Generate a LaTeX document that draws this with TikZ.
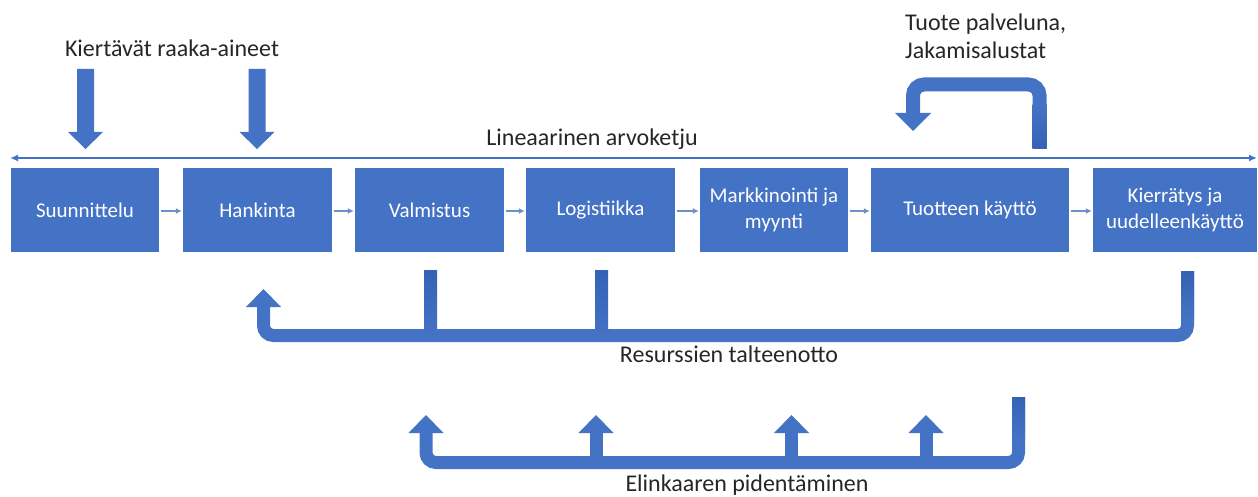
\documentclass[tikz,border=0pt]{standalone}
\usepackage{fontspec}
\setmainfont{Carlito}
\usetikzlibrary{arrows.meta}
\definecolor{ofblue}{HTML}{4472C4}
\definecolor{stubdark}{HTML}{3562B4}
\definecolor{chainc}{HTML}{6F8FC8}
\definecolor{txt}{HTML}{262626}
\begin{document}
\begin{tikzpicture}[x=1pt,y=-1pt,
  box/.style={fill=ofblue, text=white, minimum height=84, inner sep=2, font=\fontsize{21}{26}\selectfont, align=center},
  lbl/.style={text=txt, font=\fontsize{24}{28}\selectfont, inner sep=0},
  chain/.style={draw=chainc, line width=1.3, -{Latex[length=6,width=6]}, shorten <=2, shorten >=1},
  fat/.style={draw=ofblue, line width=13, rounded corners=10},
  darktop/.style={top color=stubdark, bottom color=ofblue, draw=none},
  darkbot/.style={top color=ofblue, bottom color=stubdark, draw=none},
]
\useasboundingbox (0,0) rectangle (1258,497);

% value chain boxes
\node[box, minimum width=148] (s) at (85,210) {Suunnittelu};
\node[box, minimum width=149] (h) at (257.5,210) {Hankinta};
\node[box, minimum width=149] (v) at (429.5,210) {Valmistus};
\node[box, minimum width=149] (l) at (600.5,210) {Logistiikka};
\node[box, minimum width=148] (m) at (774,210) {Markkinointi ja\\myynti};
\node[box, minimum width=198] (t) at (970,210) {Tuotteen käyttö};
\node[box, minimum width=164] (k) at (1175,210) {Kierrätys ja\\uudelleenkäyttö};

\draw[chain] (s.east |- 0,211) -- (h.west |- 0,211);
\draw[chain] (h.east |- 0,211) -- (v.west |- 0,211);
\draw[chain] (v.east |- 0,211) -- (l.west |- 0,211);
\draw[chain] (l.east |- 0,211) -- (m.west |- 0,211);
\draw[chain] (m.east |- 0,211) -- (t.west |- 0,211);
\draw[chain] (t.east |- 0,211) -- (k.west |- 0,211);

% linear value chain line
\coordinate (L) at (10,158);
\coordinate (R) at (1257,158);
\draw[ofblue, line width=2, {Latex[length=8,width=7]}-{Latex[length=8,width=7]}] (L) -- (R);
\node[lbl, anchor=base] (lin) at (592,146) {Lineaarinen arvoketju};

% circular raw materials
\node[lbl, anchor=base] (kr) at (172,57) {Kiertävät raaka-aineet};
\foreach \cx in {85.5,257} {
  \fill[ofblue] (\cx-8.5,69) -- (\cx+8.5,69) -- (\cx+8.5,132) -- (\cx+17.5,132)
     -- (\cx,149) -- (\cx-17.5,132) -- (\cx-8.5,132) -- cycle;
}

% product as a service
\node[lbl, anchor=north west, align=left] (tp) at (905,14) {Tuote palveluna,\\Jakamisalustat};
\draw[draw=ofblue, line width=14, rounded corners=11] (1039.5,149) -- (1039.5,84.5) -- (913,84.5) -- (913,113);
\shade[darkbot] (1032.5,105) rectangle (1046.5,149);
\fill[ofblue] (895,113) -- (931,113) -- (913,131) -- cycle;

% resource recovery
\draw[fat] (1187.5,271) -- (1187.5,335.5) -- (263.5,335.5) -- (263.5,307);
\shade[darktop] (1181,271) rectangle (1194,318);
\fill[ofblue] (246,307) -- (281,307) -- (263.5,289) -- cycle;
\shade[darktop] (424,270) rectangle (437,336);
\shade[darktop] (595,270) rectangle (608,336);
\node[lbl, anchor=base] (res) at (729,362) {Resurssien talteenotto};

% life extension
\draw[fat] (1018.5,397) -- (1018.5,462.5) -- (426,462.5) -- (426,433);
\shade[darktop] (1012,397) rectangle (1025,440);
\fill[ofblue] (408.5,433) -- (443.5,433) -- (426,415) -- cycle;
\foreach \cx in {596,791.5,926} {
  \fill[ofblue] (\cx-6.5,432) rectangle (\cx+6.5,463);
  \fill[ofblue] (\cx-17.5,433) -- (\cx+17.5,433) -- (\cx,415) -- cycle;
}
\node[lbl, anchor=base] (eli) at (747,491) {Elinkaaren pidentäminen};
\end{tikzpicture}
\end{document}
